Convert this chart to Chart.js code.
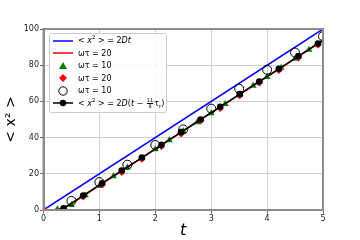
<!DOCTYPE html>
<html><head><meta charset="utf-8">
<script src="https://cdn.jsdelivr.net/npm/chart.js@4.4.0/dist/chart.umd.min.js"></script>
<style>
html,body{margin:0;padding:0;background:#fff;}
#wrap{position:relative;width:360px;height:240px;}
#legend{position:absolute;left:49px;top:33px;width:118px;height:80px;background:rgba(255,255,255,0.85);border:1px solid #ccc;border-radius:3px;box-sizing:border-box;padding-top:0px;font-family:"DejaVu Sans";font-size:8px;color:#000;}
.row{display:flex;align-items:center;height:12.5px;}
.row svg{width:22px;height:12px;margin-left:2px;margin-right:4px;flex:none;}
.fr{display:inline-flex;flex-direction:column;align-items:center;font-size:5px;line-height:5px;vertical-align:middle;margin:0 1px;}
.fr span:first-child{border-bottom:0.6px solid #000;}
sup{font-size:5.5px;vertical-align:4px;line-height:0;}
sub{font-size:5.5px;vertical-align:-2px;line-height:0;}
</style></head>
<body>
<div id="wrap">
<canvas id="c" width="360" height="240"></canvas>
<div id="legend">
 <div class="row" style="margin-top:0.5px"><svg viewBox="0 0 22 12"><line x1="1" y1="6" x2="21" y2="6" stroke="#0000ff" stroke-width="1.5"/></svg><span>&lt; <i>x</i><sup>2</sup> &gt; = 2<i>Dt</i></span></div>
 <div class="row"><svg viewBox="0 0 22 12"><line x1="1" y1="6" x2="21" y2="6" stroke="#ff0000" stroke-width="1.5"/></svg><span>ωτ = 20</span></div>
 <div class="row"><svg viewBox="0 0 22 12"><polygon points="11,2 15,9 7,9" fill="#008000"/></svg><span>ωτ = 10</span></div>
 <div class="row"><svg viewBox="0 0 22 12"><polygon points="11,2 15,6 11,10 7,6" fill="#ff0000"/></svg><span>ωτ = 20</span></div>
 <div class="row"><svg viewBox="0 0 22 12"><circle cx="11" cy="6" r="4.2" fill="none" stroke="#000" stroke-width="1"/></svg><span>ωτ = 10</span></div>
 <div class="row"><svg viewBox="0 0 22 12"><line x1="1" y1="6" x2="21" y2="6" stroke="#000" stroke-width="1.5"/><circle cx="11" cy="6" r="3.2" fill="#000"/></svg><span>&lt; <i>x</i><sup>2</sup> &gt; = 2<i>D</i>(<i>t</i> − <span class="fr"><span>11</span><span>8</span></span>τ<sub>r</sub>)</span></div>
</div>
</div>
<script>
// ---- data ----
const xTicks = [0, 1, 2, 3, 4, 5];
const yTicks = [0, 20, 40, 60, 80, 100];

const blueT = [0, 5];
const blueV = [0, 100];

const redLineT = [0, 0.1, 0.2, 0.3, 0.4, 0.5, 0.6, 0.8, 1.0, 1.5, 2.0, 3.0, 4.0, 5.0];
const redLineV = [0, 0.05, 0.3, 0.8, 1.6, 3.2, 5.4, 9.5, 13.6, 23.6, 33.6, 53.6, 73.6, 93.6];

const greenT = [0, 0.25, 0.5, 0.75, 1.0, 1.25, 1.5, 1.75, 2.0, 2.25, 2.5, 2.75, 3.0, 3.25, 3.5, 3.75, 4.0, 4.25, 4.5, 4.75, 5.0];
const greenV = [0.6, 0.4, 2.8, 8.2, 13.4, 18.6, 23.5, 28.6, 33.6, 38.5, 43.6, 48.5, 53.5, 58.6, 63.5, 68.6, 73.5, 78.6, 83.5, 88.5, 93.5];

const redT = [0, 0.36, 0.71, 1.05, 1.40, 1.76, 2.11, 2.46, 2.81, 3.16, 3.51, 3.86, 4.21, 4.56, 4.91];
const redV = [0.3, 0.6, 7.4, 14.0, 20.9, 28.2, 35.2, 42.2, 49.3, 56.2, 63.3, 70.3, 77.2, 84.2, 91.3];

const circT = [0.5, 1.0, 1.5, 2.0, 2.5, 3.0, 3.5, 4.0, 4.5, 5.0];
const circV = [5.0, 15.4, 25.0, 35.9, 44.5, 56.0, 67.0, 77.5, 87.0, 96.0];

const blackT = [0.36, 0.71, 1.05, 1.40, 1.76, 2.11, 2.46, 2.81, 3.16, 3.51, 3.86, 4.21, 4.56, 4.91, 5.0];
const blackV = [1.0, 8.0, 14.8, 21.8, 29.0, 36.0, 43.0, 50.0, 57.0, 64.0, 71.0, 78.0, 85.0, 92.0, 93.8];

const pts = (t, v) => t.map((x, i) => ({x: x, y: v[i]}));

const frame = {
  id: 'frame',
  afterDatasetsDraw(chart) {
    const a = chart.chartArea, ctx = chart.ctx;
    ctx.save();
    ctx.strokeStyle = '#8c8c8c';
    ctx.lineWidth = 2;
    ctx.strokeRect(a.left, a.top, a.right - a.left, a.bottom - a.top);
    ctx.restore();
  }
};

new Chart(document.getElementById('c'), {
  type: 'scatter',
  data: {
    datasets: [
      {label: 'blue', data: pts(blueT, blueV), showLine: true, borderColor: '#0000ff', borderWidth: 1.5, pointRadius: 0, order: 6},
      {label: 'redline', data: pts(redLineT, redLineV), showLine: true, borderColor: '#ff0000', borderWidth: 1.5, pointRadius: 0, order: 5},
      {label: 'green', data: pts(greenT, greenV), pointStyle: 'triangle', pointRadius: 4, backgroundColor: '#008000', borderColor: '#008000', borderWidth: 0, order: 4},
      {label: 'red', data: pts(redT, redV), pointStyle: 'rectRot', pointRadius: 3.8, backgroundColor: '#ff0000', borderColor: '#ff0000', borderWidth: 0, order: 3},
      {label: 'circ', data: pts(circT, circV), pointStyle: 'circle', pointRadius: 4.5, backgroundColor: 'rgba(0,0,0,0)', borderColor: '#000', borderWidth: 1, order: 2},
      {label: 'black', data: pts(blackT, blackV), showLine: true, borderColor: '#000', borderWidth: 1.5,
        pointRadius: blackT.map((t, i) => i === blackT.length - 1 ? 0 : 3.3), backgroundColor: '#000', pointBorderWidth: 0, order: 1}
    ]
  },
  options: {
    responsive: false,
    animation: false,
    devicePixelRatio: 1,
    layout: {padding: {left: 0, right: 37, top: 29, bottom: 0}},
    plugins: {legend: {display: false}, tooltip: {enabled: false}},
    scales: {
      x: {
        type: 'linear', min: 0, max: 5,
        afterBuildTicks: s => { s.ticks = xTicks.map(v => ({value: v})); },
        afterFit: s => { s.height = 30; },
        ticks: {color: '#222', font: {family: 'DejaVu Sans', size: 8}, padding: 1, maxRotation: 0},
        grid: {color: '#d0d0d0', lineWidth: 1, tickLength: 3.5, tickColor: '#666'},
        border: {color: '#8c8c8c', width: 2},
        title: {display: true, text: 't', color: '#000', font: {family: 'DejaVu Sans', size: 16, style: 'italic'}, padding: {top: 0, bottom: 0}}
      },
      y: {
        type: 'linear', min: 0, max: 100,
        afterBuildTicks: s => { s.ticks = yTicks.map(v => ({value: v})); },
        afterFit: s => { s.width = 43.5; },
        ticks: {color: '#222', font: {family: 'DejaVu Sans', size: 8}, padding: 1},
        grid: {color: '#d0d0d0', lineWidth: 1, tickLength: 3.5, tickColor: '#666'},
        border: {color: '#8c8c8c', width: 2},
        title: {display: true, text: '< x² >', color: '#000', font: {family: 'DejaVu Sans', size: 14}, padding: {top: 3, bottom: 3}}
      }
    }
  },
  plugins: [frame]
});
</script>
</body></html>
